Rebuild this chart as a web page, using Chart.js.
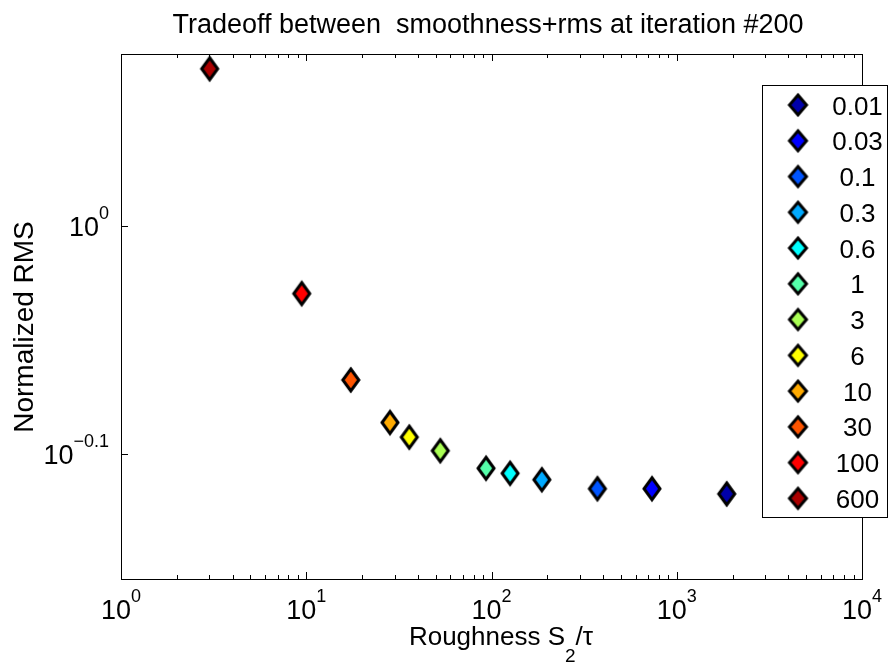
<!DOCTYPE html>
<html>
<head>
<meta charset="utf-8">
<script src="https://cdn.jsdelivr.net/npm/chart.js@4/dist/chart.umd.min.js"></script>
<style>
html, body { margin: 0; padding: 0; background: #fff; }
canvas { display: block; }
</style>
</head>
<body>
<canvas id="grafico" width="890" height="664"></canvas>
<script>
// valores
const lambdas = ['0.01', '0.03', '0.1', '0.3', '0.6', '1', '3', '6', '10', '30', '100', '600'];
const rugosidad = [1861, 735, 373, 187, 126, 93.4, 52.9, 36.0, 28.3, 17.4, 9.45, 3.01];
const rmsNormalizado = [0.763, 0.767, 0.767, 0.774, 0.779, 0.783, 0.797, 0.808, 0.820, 0.856, 0.934, 1.172];
const colores = ['#0000aa', '#0000ff', '#0055ff', '#00aaff', '#00ffff', '#55ffaa', '#aaff55', '#ffff00', '#ffaa00', '#ff5500', '#ff0000', '#aa0000'];

const xTicks = [1, 10, 100, 1000, 10000];
const xTickExp = ['0', '1', '2', '3', '4'];
const yTicks = [1, 0.7943];
const yTickExp = ['0', '\u22120.1'];

const titulo = 'Tradeoff between  smoothness+rms at iteration #200';
const tituloY = 'Normalized RMS';

const FUENTE = "'Liberation Sans', Arial, sans-serif";

// rombo alto tipo matlab
const rombo = (color, w, h) => {
    const c = document.createElement('canvas');
    c.width = w + 10;
    c.height = h + 10;
    const g = c.getContext('2d');
    const cx = c.width / 2, cy = c.height / 2;
    g.beginPath();
    g.moveTo(cx, cy - h / 2);
    g.lineTo(cx + w / 2, cy);
    g.lineTo(cx, cy + h / 2);
    g.lineTo(cx - w / 2, cy);
    g.closePath();
    g.fillStyle = color;
    g.fill();
    g.lineWidth = 3;
    g.strokeStyle = '#000';
    g.stroke();
    return c;
};

const marcas = colores.map(c => rombo(c, 16, 22));
const marcasLeyenda = colores.map(c => rombo(c, 17, 20));

const textoExp = (ctx, base, exp, x, y, alinear, tam, tamExp, subir) => {
    ctx.font = tam + 'px ' + FUENTE;
    const wb = ctx.measureText(base).width;
    ctx.font = tamExp + 'px ' + FUENTE;
    const we = ctx.measureText(exp).width;
    let x0 = x;
    if (alinear === 'center') x0 = x - (wb + we) / 2;
    if (alinear === 'right') x0 = x - (wb + we);
    ctx.textAlign = 'left';
    ctx.textBaseline = 'alphabetic';
    ctx.font = tam + 'px ' + FUENTE;
    ctx.fillText(base, x0, y);
    ctx.font = tamExp + 'px ' + FUENTE;
    ctx.fillText(exp, x0 + wb, y - subir);
};

const marco = {
    id: 'marco',
    afterDatasetsDraw(chart) {
        const { ctx, chartArea: a, scales: { x, y } } = chart;
        ctx.save();
        ctx.strokeStyle = '#000';
        ctx.fillStyle = '#000';
        ctx.lineWidth = 1;
        ctx.strokeRect(Math.round(a.left) + 0.5, Math.round(a.top) + 0.5,
            Math.round(a.right - a.left), Math.round(a.bottom - a.top));

        // ticks eje x (hacia dentro, abajo y arriba)
        ctx.beginPath();
        xTicks.forEach((v, i) => {
            const px = Math.round(x.getPixelForValue(v)) + 0.5;
            ctx.moveTo(px, a.bottom); ctx.lineTo(px, a.bottom - 7);
            ctx.moveTo(px, a.top); ctx.lineTo(px, a.top + 7);
            if (i < xTicks.length - 1) {
                for (let m = 2; m < 10; m++) {
                    const pm = Math.round(x.getPixelForValue(v * m)) + 0.5;
                    ctx.moveTo(pm, a.bottom); ctx.lineTo(pm, a.bottom - 4);
                    ctx.moveTo(pm, a.top); ctx.lineTo(pm, a.top + 4);
                }
            }
        });
        yTicks.forEach(v => {
            const py = Math.round(y.getPixelForValue(v)) + 0.5;
            ctx.moveTo(a.left, py); ctx.lineTo(a.left + 7, py);
            ctx.moveTo(a.right, py); ctx.lineTo(a.right - 7, py);
        });
        ctx.stroke();

        // etiquetas de ticks
        xTicks.forEach((v, i) => {
            textoExp(ctx, '10', xTickExp[i], x.getPixelForValue(v), 619, 'center', 27, 18, 17);
        });
        yTicks.forEach((v, i) => {
            const py = y.getPixelForValue(v);
            textoExp(ctx, '10', yTickExp[i], 109, py + 10, 'right', 27, 18, 17);
        });

        // titulo
        ctx.textAlign = 'center';
        ctx.textBaseline = 'alphabetic';
        ctx.font = '27px ' + FUENTE;
        ctx.fillText(titulo, 488, 33);

        // titulo eje x con subindice
        const partes = [['Roughness S', 26, 0], ['2', 19, 17], ['/\u03c4', 26, 0]];
        let ancho = 0;
        partes.forEach(p => { ctx.font = p[1] + 'px ' + FUENTE; ancho += ctx.measureText(p[0]).width; });
        let cx = 501 - ancho / 2;
        ctx.textAlign = 'left';
        partes.forEach(p => {
            ctx.font = p[1] + 'px ' + FUENTE;
            ctx.fillText(p[0], cx, 645 + p[2]);
            cx += ctx.measureText(p[0]).width;
        });

        // titulo eje y
        ctx.save();
        ctx.translate(33, 327);
        ctx.rotate(-Math.PI / 2);
        ctx.textAlign = 'center';
        ctx.font = '28px ' + FUENTE;
        ctx.fillText(tituloY, 0, 0);
        ctx.restore();

        // leyenda
        const lx = 762.5, ly = 85.5, lw = 125, lh = 432;
        ctx.fillStyle = '#fff';
        ctx.fillRect(lx, ly, lw, lh);
        ctx.strokeRect(lx, ly, lw, lh);
        ctx.fillStyle = '#000';
        ctx.font = '26px ' + FUENTE;
        ctx.textAlign = 'center';
        lambdas.forEach((l, i) => {
            const cy = 105 + i * 35.76;
            const m = marcasLeyenda[i];
            ctx.drawImage(m, 798 - m.width / 2, cy - m.height / 2);
            ctx.fillText(l, 857.5, cy + 9.5);
        });
        ctx.restore();
    }
};

const ctx = document.getElementById('grafico').getContext('2d');

new Chart(ctx, {
    type: 'scatter',
    data: {
        datasets: lambdas.map((l, i) => ({
            label: l,
            data: [{ x: rugosidad[i], y: rmsNormalizado[i] }],
            pointStyle: marcas[i],
            pointRadius: 10,
            backgroundColor: colores[i],
            borderColor: '#000'
        }))
    },
    options: {
        responsive: false,
        animation: false,
        layout: {
            autoPadding: false,
            padding: { left: 121, right: 28, top: 54, bottom: 85 }
        },
        scales: {
            x: { type: 'logarithmic', min: 1, max: 10000, bounds: 'data', display: false },
            y: { type: 'logarithmic', min: 0.7002, max: 1.1896, bounds: 'data', display: false }
        },
        plugins: {
            legend: { display: false },
            tooltip: { enabled: false },
            title: { display: false }
        }
    },
    plugins: [marco]
});
</script>
</body>
</html>
